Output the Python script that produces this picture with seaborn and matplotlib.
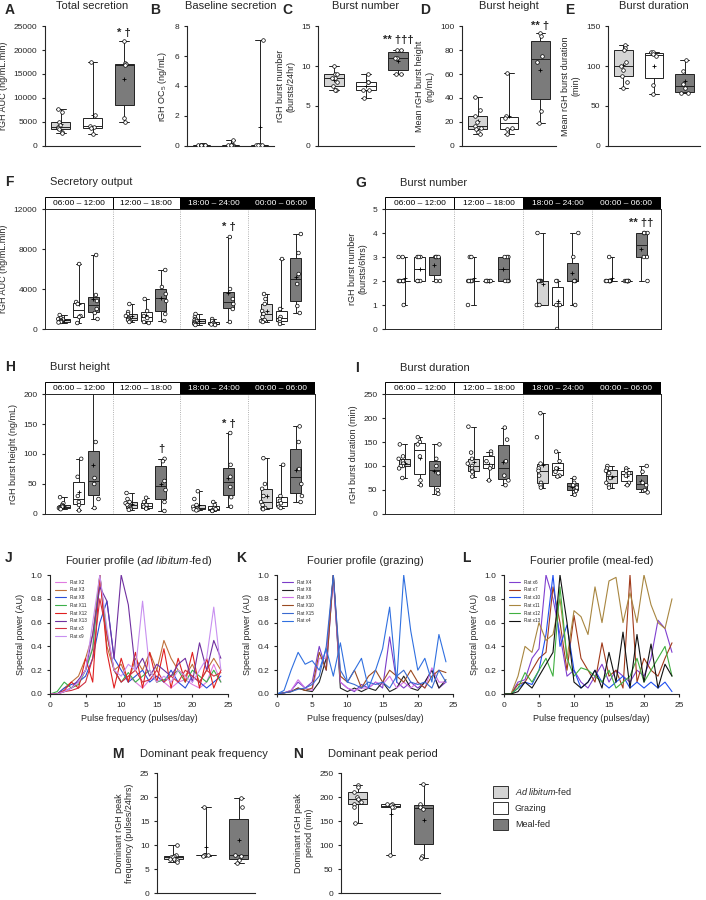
import matplotlib
matplotlib.use("Agg")
import matplotlib.pyplot as plt
from matplotlib.patches import Patch, Rectangle
import numpy as np
import pandas as pd
import seaborn as sns

sns.set_style("ticks")
plt.rcParams["font.family"] = ["Liberation Sans", "DejaVu Sans"]
plt.rcParams["mathtext.fontset"] = "custom"
plt.rcParams["mathtext.it"] = "Liberation Sans:italic"
plt.rcParams["mathtext.rm"] = "Liberation Sans"
plt.rcParams["font.size"] = 6

GROUPS = ["Ad libitum-fed", "Grazing", "Meal-fed"]
GROUP_COLORS = {"Ad libitum-fed": "#d4d4d4", "Grazing": "#ffffff", "Meal-fed": "#7b7b7b"}
PERIODS = ["06:00 – 12:00", "12:00 – 18:00", "18:00 – 24:00", "00:00 – 06:00"]

# ---- top row: per-group values ----
total_secretion = [[7700, 7000, 5000, 4300, 4000, 3800, 3500, 3000, 2800],
                   [17600, 6500, 4200, 4000, 3700, 2400],
                   [21800, 17200, 17000, 16800, 5800, 5000]]
baseline_secretion = [[0.05] * 9,
                      [0.4, 0.1, 0.1, 0.1, 0.1, 0.1],
                      [7.1, 0.1, 0.1, 0.1, 0.1, 0.1]]
burst_number = [[10, 9, 9, 8.5, 8.5, 8, 7.5, 7, 7],
                [9, 8, 8, 7, 7, 6],
                [12, 12, 11, 11, 9, 9]]
burst_height = [[41, 30, 25, 20, 17, 15, 14, 12, 10],
                [61, 25, 23, 15, 14, 10],
                [94, 92, 75, 70, 29, 19]]
burst_duration = [[126, 123, 120, 105, 100, 95, 88, 80, 72],
                  [118, 117, 115, 112, 76, 65],
                  [108, 94, 78, 72, 66, 66]]

# ---- per-period values: [period][group] ----
output_6h = [
    [[1400, 1100, 1000, 950, 900, 800, 750, 700, 650], [6500, 2700, 2500, 1300, 1200, 600], [7400, 3400, 2800, 2000, 1600, 1000]],
    [[2500, 1700, 1500, 1300, 1100, 1000, 900, 800, 700], [3000, 1800, 1300, 1100, 700, 600], [5900, 4200, 3500, 2800, 1500, 800]],
    [[1500, 1200, 1000, 900, 800, 700, 600, 500, 400], [1000, 800, 600, 500, 450, 400], [9200, 4000, 3000, 2500, 2000, 700]],
    [[3500, 3000, 2500, 1800, 1500, 1200, 900, 800, 700], [7000, 2000, 1200, 1000, 700, 500], [9500, 7600, 5500, 4500, 2300, 1600]],
]
number_6h = [
    [[3, 3, 2, 2, 2, 2, 2, 2, 1], [3, 3, 3, 2, 2, 2], [3, 3, 3, 3, 2, 2]],
    [[3, 3, 2, 2, 2, 2, 2, 2, 1], [2, 2, 2, 2, 2, 2], [3, 3, 3, 2, 2, 2]],
    [[4, 2, 2, 2, 2, 2, 1, 1, 1], [2, 2, 1, 1, 1, 0], [4, 3, 2, 2, 2, 1]],
    [[3, 2, 2, 2, 2, 2, 2, 2, 2], [2, 2, 2, 2, 2, 2], [4, 4, 4, 3, 3, 2]],
]
height_6h = [
    [[28, 18, 15, 13, 12, 11, 10, 9, 8], [92, 62, 30, 20, 15, 6], [230, 120, 60, 50, 25, 10]],
    [[35, 25, 20, 18, 15, 12, 10, 8, 7], [27, 20, 15, 12, 10, 9], [92, 88, 55, 40, 20, 5]],
    [[38, 25, 15, 12, 10, 9, 8, 7, 6], [20, 15, 10, 8, 6, 5], [135, 82, 62, 45, 28, 12]],
    [[93, 50, 42, 30, 20, 15, 10, 9, 8], [82, 30, 22, 18, 12, 10], [146, 120, 75, 50, 30, 20]],
]
duration_6h = [
    [[145, 120, 115, 110, 105, 100, 100, 95, 75], [160, 150, 145, 120, 70, 60], [145, 115, 100, 85, 50, 42]],
    [[182, 128, 115, 105, 100, 95, 90, 88, 78], [130, 125, 110, 100, 95, 70], [180, 155, 110, 80, 70, 60]],
    [[210, 160, 105, 95, 90, 80, 65, 60, 55], [130, 110, 95, 88, 80, 78], [75, 65, 60, 55, 48, 40]],
    [[100, 95, 90, 85, 75, 65, 60, 55], [95, 90, 85, 80, 65, 60], [100, 88, 65, 60, 50, 45]],
]

peak_frequency = [[10, 8, 7.8, 7.6, 7.4, 7, 7, 6.8, 6.4],
                  [18, 8, 8, 8, 8, 7.8],
                  [19.8, 18, 8, 7.8, 6.8, 6.2]]
peak_period = [[225, 220, 210, 200, 195, 190, 185, 180, 145],
               [185, 185, 183, 180, 180, 80],
               [228, 185, 180, 175, 78, 72]]

# ---- Fourier spectra, pulse frequency 0..24 /day ----
freq = list(range(25))
spec_adlib = {
    "Rat X2":  [0, 0, .03, .05, .1, .2, .4, 1.0, .5, .2, .1, .15, .1, .05, .12, .15, .1, .05, .1, .12, .08, .05, .1, .25, .1],
    "Rat X3":  [0, 0, .05, .1, .15, .3, .5, 1.0, .4, .2, .25, .1, .3, .2, .35, .2, .45, .3, .2, .15, .25, .1, .2, .3, .2],
    "Rat X8":  [0, 0, .05, .08, .1, .15, .3, .6, .78, .3, .2, .1, .15, .2, .1, .15, .1, .2, .1, .05, .15, .1, .05, .1, .15],
    "Rat X11": [0, .02, .1, .05, .08, .2, .38, 1.0, .5, .2, .1, .18, .1, .15, .2, .1, .12, .15, .2, .1, .2, .15, .1, .2, .1],
    "Rat X12": [0, 0, .03, .1, .05, .3, .1, 1.0, .35, .05, .3, .1, .35, .05, .35, .1, .38, .05, .3, .1, .35, .05, .3, .05, .2],
    "Rat X13": [0, 0, .02, .05, .12, .2, .5, .9, .78, .3, 1.0, .75, .2, .3, .15, .25, .2, .15, .25, .3, .1, .43, .2, .45, .3],
    "Rat x3":  [0, 0, .02, .03, .05, .1, .3, .8, .5, .2, .1, .15, .2, .1, .12, .2, .1, .15, .1, .2, .15, .1, .2, .15, .18],
    "Rat x9":  [0, 0, .02, .05, .1, .2, .6, 1.0, .55, .2, .15, .25, .2, .78, .2, .1, .15, .1, .2, .15, .1, .2, .3, .73, .2],
}
spec_grazing = {
    "Rat X4":  [0, .01, .03, .1, .05, .1, .4, .2, 1.0, .1, .05, .02, .08, .05, .1, .05, .48, .1, .05, .1, .05, .1, .2, .05, .1],
    "Rat X6":  [0, .01, .02, .05, .03, .02, .1, .3, 1.0, .05, .02, .05, .02, .05, .03, .1, .02, .05, .15, .05, .03, .1, .2, .05, .12],
    "Rat X9":  [0, .01, .03, .12, .05, .03, .3, .3, .95, .1, .05, .03, .05, .05, .1, .08, .15, .05, .1, .05, .1, .05, .22, .1, .1],
    "Rat X10": [0, .01, .02, .05, .03, .05, .35, .2, 1.0, .15, .1, .2, .05, .15, .2, .1, .2, .15, .1, .2, .1, .05, .15, .2, .18],
    "Rat X15": [0, .01, .02, .04, .05, .08, .15, .4, 1.0, .2, .1, .08, .05, .1, .08, .1, .05, .15, .2, .1, .08, .1, .05, .2, .1],
    "Rat x4":  [0, .03, .2, .35, .25, .28, .2, .38, .15, .43, .1, .2, .3, .05, .2, .38, .73, .1, 1.0, .53, .2, .3, .1, .5, .27],
}
spec_meal = {
    "Rat x6":  [0, 0, .1, .12, .3, .38, 1.0, .8, .5, .15, .2, .1, .05, .15, .25, .1, .2, .15, .1, .2, .15, .3, .62, .55, .35],
    "Rat x7":  [0, 0, .08, .1, .2, .3, .35, .9, .6, .2, .66, .3, .2, .1, .43, .15, .2, .05, 1.0, .1, .3, .2, .15, .3, .43],
    "Rat x10": [0, 0, .05, .1, .08, .2, .5, 1.0, .4, .58, .2, .05, .1, .2, .1, .05, .1, .15, .05, .1, .05, .1, .05, .1, .02],
    "Rat x11": [0, 0, .15, .4, .35, .6, .45, .5, .8, .3, .7, .65, .5, .9, .6, .95, .98, .6, .85, .6, 1.0, .75, .6, .55, .8],
    "Rat x12": [0, 0, .05, .18, .1, .2, .3, .15, .9, .3, .15, .22, .2, .15, .1, .2, .05, .1, .15, .3, .1, .2, .3, .4, .15],
    "Rat x13": [0, 0, .02, .1, .05, .15, .25, .35, 1.0, .6, .1, .05, .1, .2, .05, .35, .1, .52, .05, .5, .1, .42, .05, .25, .15],
}
pal_adlib = {"Rat X2": "#e07be0", "Rat X3": "#c0703a", "Rat X8": "#2a4fd8", "Rat X11": "#3cb04a",
             "Rat X12": "#e02020", "Rat X13": "#7030a0", "Rat x3": "#d03040", "Rat x9": "#c890f0"}
pal_grazing = {"Rat X4": "#7a3cc8", "Rat X6": "#222222", "Rat X9": "#d070e8", "Rat X10": "#9a4a22",
               "Rat X15": "#3a6ad0", "Rat x4": "#3070e0"}
pal_meal = {"Rat x6": "#8040d0", "Rat x7": "#a03a1a", "Rat x10": "#2050f0", "Rat x11": "#a88640",
            "Rat x12": "#40b040", "Rat x13": "#111111"}

W, H = 706, 900
fig = plt.figure(figsize=(W / 100, H / 100), dpi=100)


def add_ax(x0, y0, x1, y1):
    return fig.add_axes([x0 / W, 1 - y1 / H, (x1 - x0) / W, (y1 - y0) / H])


def letter(x, y, s):
    fig.text(x / W, 1 - y / H, s, fontsize=10, fontweight="bold", va="center", ha="left")


def long_df(groups_values, periods=None):
    rows = []
    if periods is None:
        for g, vals in zip(GROUPS, groups_values):
            rows += [(g, v) for v in vals]
        return pd.DataFrame(rows, columns=["group", "value"])
    for p, per in zip(periods, groups_values):
        for g, vals in zip(GROUPS, per):
            rows += [(p, g, v) for v in vals]
    return pd.DataFrame(rows, columns=["period", "group", "value"])


BOX_KW = dict(whis=(0, 100), showfliers=False, showmeans=True, linewidth=0.7,
              linecolor="#222222",
              meanprops=dict(marker="+", markeredgecolor="black", markersize=3, markeredgewidth=0.6))
PT_KW = dict(size=2.6, linewidth=0.5, edgecolor="black", jitter=0.12)


def simple_box(ax, data, ylim, yticks, ylabel, title, ann=None):
    df = long_df(data)
    sns.boxplot(data=df, x="group", y="value", hue="group", palette=GROUP_COLORS,
                width=0.6, ax=ax, legend=False, **BOX_KW)
    sns.stripplot(data=df, x="group", y="value", color="white", ax=ax, **PT_KW)
    ax.set_ylim(*ylim)
    ax.set_yticks(yticks)
    ax.set_xticks([])
    ax.set_xlabel("")
    ax.set_ylabel(ylabel, fontsize=6.5)
    ax.set_title(title, fontsize=8, pad=12)
    ax.tick_params(labelsize=6, length=2)
    sns.despine(ax=ax)
    if ann:
        idx, text, yv = ann
        ax.text(idx, yv, text, ha="center", va="bottom", fontsize=8, fontweight="bold")


def period_box(ax, data, ylim, yticks, ylabel, anns=()):
    df = long_df(data, PERIODS)
    sns.boxplot(data=df, x="period", y="value", hue="group", palette=GROUP_COLORS,
                width=0.65, gap=0.25, ax=ax, legend=False, **BOX_KW)
    sns.stripplot(data=df, x="period", y="value", hue="group", dodge=True,
                  palette={g: "white" for g in GROUPS}, ax=ax, legend=False, **PT_KW)
    ax.set_ylim(*ylim)
    ax.set_yticks(yticks)
    ax.set_xlim(-0.5, 3.5)
    ax.set_xticks([])
    ax.set_xlabel("")
    ax.set_ylabel(ylabel, fontsize=6.5)
    ax.tick_params(labelsize=6, length=2)
    for xv in (0.5, 1.5, 2.5):
        ax.axvline(xv, color="#999999", lw=0.6, ls=":")
    for s in ax.spines.values():
        s.set_linewidth(0.7)
    for pi, text, yv in anns:
        ax.text(pi + 0.22, yv, text, ha="center", va="bottom", fontsize=8, fontweight="bold")
    # header strip
    pos = ax.get_position()
    hx = fig.add_axes([pos.x0, pos.y1, pos.width, 12 / H])
    hx.set_xlim(-0.5, 3.5)
    hx.set_ylim(0, 1)
    hx.axis("off")
    for i, p in enumerate(PERIODS):
        dark = i >= 2
        hx.add_patch(Rectangle((i - 0.5, 0), 1, 1, facecolor="black" if dark else "white",
                               edgecolor="black", lw=0.7))
        hx.text(i, 0.5, p, ha="center", va="center", fontsize=6,
                color="white" if dark else "black")


# ---- Row A–E ----
axA = add_ax(45, 26, 140, 146)
simple_box(axA, total_secretion, (0, 25000), range(0, 25001, 5000), "rGH AUC (ng/mL.min)",
           "Total secretion", (2, "* †", 22500))
axB = add_ax(187, 26, 274, 146)
simple_box(axB, baseline_secretion, (0, 8), range(0, 9, 2), "rGH OC$_5$ (ng/mL)", "Baseline secretion")
axC = add_ax(318, 26, 414, 146)
simple_box(axC, burst_number, (0, 15), range(0, 16, 5), "rGH burst number\n(bursts/24hr)",
           "Burst number", (2, "** †††", 12.6))
axD = add_ax(462, 26, 556, 146)
simple_box(axD, burst_height, (0, 100), range(0, 101, 20), "Mean rGH burst height\n(ng/mL)",
           "Burst height", (2, "** †", 95.5))
axE = add_ax(608, 26, 700, 146)
simple_box(axE, burst_duration, (0, 150), range(0, 151, 50), "Mean rGH burst duration\n(min)",
           "Burst duration")
for x, s in [(5, "A"), (150, "B"), (282, "C"), (420, "D"), (565, "E")]:
    letter(x, 10, s)

# ---- F–I ----
axF = add_ax(45, 209, 315, 329)
period_box(axF, output_6h, (0, 12000), range(0, 12001, 4000), "rGH AUC (ng/mL.min)",
           [(2, "* †", 9700)])
axG = add_ax(385, 209, 661, 329)
period_box(axG, number_6h, (0, 5), range(0, 6), "rGH burst number\n(bursts/6hrs)",
           [(3, "** ††", 4.2)])
axH = add_ax(45, 394, 315, 514)
period_box(axH, height_6h, (0, 200), range(0, 201, 50), "rGH burst height (ng/mL)",
           [(1, "†", 100), (2, "* †", 142)])
axI = add_ax(385, 394, 661, 514)
period_box(axI, duration_6h, (0, 250), range(0, 251, 50), "rGH burst duration (min)")
for x, y, s, t in [(5, 182, "F", "Secretory output"), (355, 183, "G", "Burst number"),
                   (5, 367, "H", "Burst height"), (355, 368, "I", "Burst duration")]:
    letter(x, y, s)
    fig.text((x + 45) / W, 1 - y / H, t, fontsize=8, va="center")

# ---- J–L Fourier ----
def spectrum(ax, spec, pal, title):
    rows = [(r, f, v) for r, vals in spec.items() for f, v in zip(freq, vals)]
    df = pd.DataFrame(rows, columns=["rat", "freq", "power"])
    sns.lineplot(data=df, x="freq", y="power", hue="rat", palette=pal, lw=0.8, ax=ax)
    ax.set_xlim(0, 25)
    ax.set_ylim(0, 1)
    ax.set_xticks(range(0, 26, 5))
    ax.set_yticks(np.arange(0, 1.01, 0.2))
    ax.set_yticklabels([f"{v:.1f}" for v in np.arange(0, 1.01, 0.2)])
    ax.set_xlabel("Pulse frequency (pulses/day)", fontsize=6.5)
    ax.set_ylabel("Spectral power (AU)", fontsize=6.5)
    ax.set_title(title, fontsize=8, pad=8)
    ax.tick_params(labelsize=6, length=2)
    ax.legend(loc="upper left", fontsize=3.3, frameon=False, handlelength=2.5, labelspacing=0.6,
              borderaxespad=0.6)
    sns.despine(ax=ax)


axJ = add_ax(50, 575, 228, 694)
spectrum(axJ, spec_adlib, pal_adlib, r"Fourier profile ($\it{ad\ libitum}$-fed)")
axK = add_ax(277, 575, 453, 694)
spectrum(axK, spec_grazing, pal_grazing, "Fourier profile (grazing)")
axL = add_ax(504, 575, 679, 694)
spectrum(axL, spec_meal, pal_meal, "Fourier profile (meal-fed)")
for x, s in [(5, "J"), (236, "K"), (462, "L")]:
    letter(x, 558, s)

# ---- M, N ----
axM = add_ax(157, 773, 255, 893)
simple_box(axM, peak_frequency, (0, 25), range(0, 26, 5), "Dominant rGH peak\nfrequency (pulses/24hrs)", "")
axN = add_ax(341, 773, 440, 893)
simple_box(axN, peak_period, (0, 250), range(0, 251, 50), "Dominant rGH peak\nperiod (min)", "")
letter(112, 754, "M")
fig.text(140 / W, 1 - 754 / H, "Dominant peak frequency", fontsize=8, va="center")
letter(293, 754, "N")
fig.text(328 / W, 1 - 754 / H, "Dominant peak period", fontsize=8, va="center")

handles = [Patch(facecolor=GROUP_COLORS[g], edgecolor="#333333", lw=0.7) for g in GROUPS]
labels = [r"$\it{Ad\ libitum}$-fed", "Grazing", "Meal-fed"]
fig.legend(handles, labels, loc="upper left", bbox_to_anchor=(485 / W, 1 - 778 / H),
           frameon=False, fontsize=6.5, handlelength=1.6, handleheight=1.6, labelspacing=0.5)

fig.savefig("out.png", dpi=100)
